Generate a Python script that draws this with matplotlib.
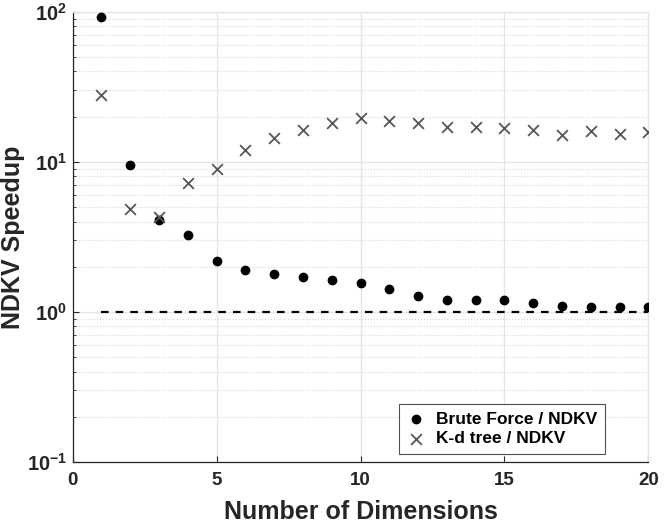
import numpy as np
import matplotlib
matplotlib.use('Agg')
import matplotlib.pyplot as plt
from matplotlib.ticker import LogLocator, FixedLocator, FuncFormatter, NullFormatter

dims = np.arange(1, 21)
brute = [92.6, 9.55, 4.09, 3.23, 2.20, 1.89, 1.80, 1.70, 1.62, 1.56,
         1.42, 1.28, 1.20, 1.20, 1.20, 1.15, 1.09, 1.08, 1.08, 1.08]
kdtree = [27.7, 4.86, 4.30, 7.24, 8.98, 11.9, 14.4, 16.4, 18.0, 19.6,
          18.8, 18.0, 17.0, 17.0, 16.8, 16.4, 15.1, 16.1, 15.2, 15.8]
baseline_x = [1, 20]
baseline_y = [1, 1]

plt.rcParams['font.family'] = ['Liberation Sans', 'DejaVu Sans']
plt.rcParams['font.weight'] = 'bold'
plt.rcParams['mathtext.fontset'] = 'custom'
plt.rcParams['mathtext.rm'] = 'Liberation Sans:bold'
plt.rcParams['mathtext.bf'] = 'Liberation Sans:bold'
plt.rcParams['mathtext.it'] = 'Liberation Sans:bold'

txt = '#262626'
fig = plt.figure(figsize=(6.64, 5.24), dpi=100)
ax = fig.add_axes([0.1095, 0.1183, 0.8669, 0.8594])

ax.plot(baseline_x, baseline_y, color='black', lw=1.6, dashes=(3.4, 3.2), zorder=2)
ax.scatter(dims, brute, s=36, color='black', marker='o', zorder=3,
           label='Brute Force / NDKV')
ax.scatter(dims, kdtree, s=60, color='#555555', marker='x', linewidths=1.3,
           zorder=3, label='K-d tree / NDKV')

ax.set_yscale('log')
ax.set_xlim(0, 20)
ax.set_ylim(0.1, 100)
ax.xaxis.set_major_locator(FixedLocator([0, 5, 10, 15, 20]))
ax.yaxis.set_major_locator(LogLocator(base=10, numticks=10))
ax.yaxis.set_minor_locator(LogLocator(base=10, subs=np.arange(2, 10), numticks=10))
ax.yaxis.set_minor_formatter(NullFormatter())
ax.yaxis.set_major_formatter(FuncFormatter(
    lambda v, p: r'$\mathbf{10^{%d}}$' % int(round(np.log10(v)))))

ax.grid(True, which='major', color='#e4e4e4', lw=0.9, ls='-', zorder=0)
ax.grid(True, which='minor', axis='y', color='#d6d6d6', lw=0.8, ls=':', zorder=0)
ax.set_axisbelow(True)

for s in ['left', 'bottom']:
    ax.spines[s].set_color(txt)
    ax.spines[s].set_linewidth(0.9)
for s in ['top', 'right']:
    ax.spines[s].set_color('#e4e4e4')
    ax.spines[s].set_linewidth(0.9)

ax.tick_params(which='both', direction='in', colors=txt, top=False, right=False)
ax.tick_params(axis='x', which='major', length=4, pad=7, labelsize=13.5)
ax.tick_params(axis='y', which='major', length=4, pad=4, labelsize=14.5)
ax.tick_params(axis='y', which='minor', length=2)

ax.set_xlabel('Number of Dimensions', fontsize=18, fontweight='bold', color=txt)
ax.set_ylabel('NDKV Speedup', fontsize=18, fontweight='bold', color=txt)
ax.xaxis.set_label_coords(0.5, -0.085)
ax.yaxis.set_label_coords(-0.083, 0.5)

leg = ax.legend(loc='lower right', bbox_to_anchor=(0.925, 0.018), borderaxespad=0,
                fontsize=12.5, frameon=True, fancybox=False, handlelength=1.1,
                handletextpad=0.6, labelspacing=0.25, borderpad=0.45)
leg.get_frame().set_edgecolor(txt)
leg.get_frame().set_linewidth(0.8)
for t in leg.get_texts():
    t.set_color('black')

fig.savefig('out.png', dpi=100)
